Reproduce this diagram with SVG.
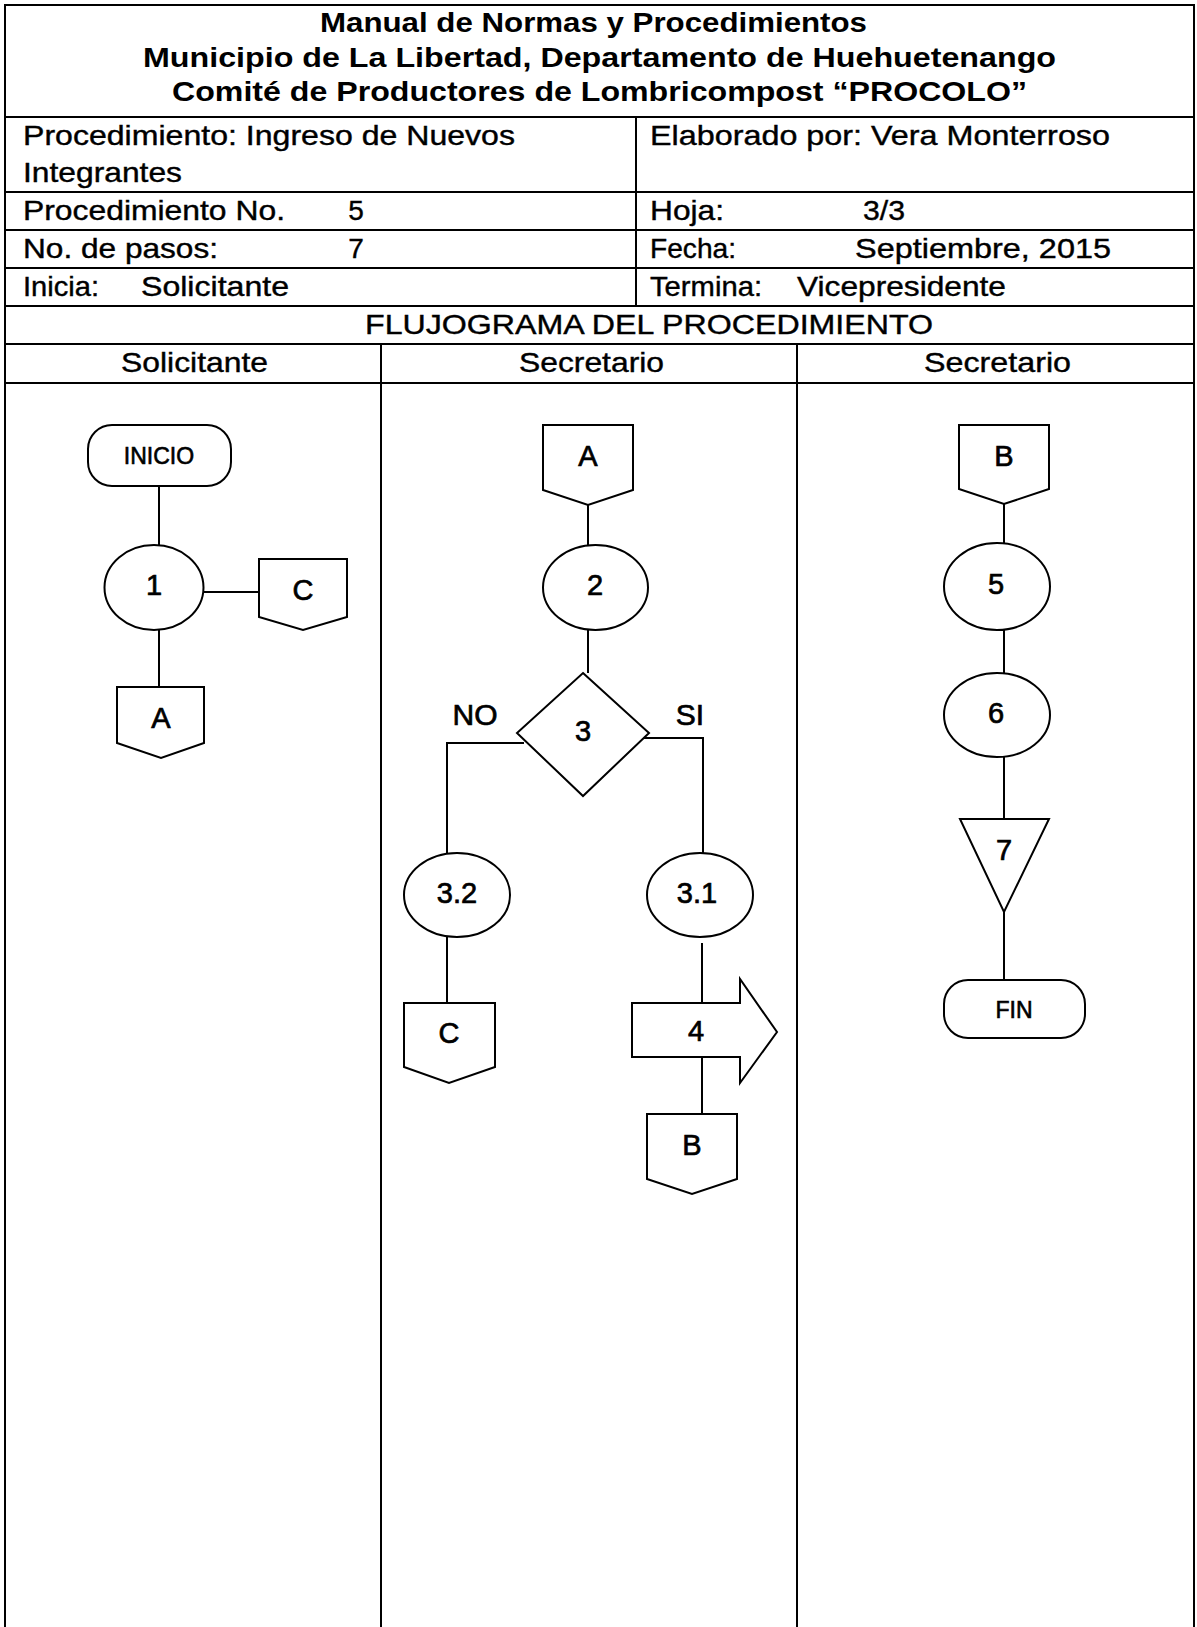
<svg xmlns="http://www.w3.org/2000/svg" width="1197" height="1627" viewBox="0 0 1197 1627">
<style>
.ln{stroke:#000;stroke-width:2;fill:none}
.sh{stroke:#000;stroke-width:2;fill:#fff}
.hd{font-family:"Liberation Sans",Arial,sans-serif;font-weight:bold;font-size:28px;fill:#000}
.tx{font-family:"Liberation Sans",Arial,sans-serif;font-size:28px;fill:#000;stroke:#000;stroke-width:0.4}
.nt{font-family:"Liberation Sans",Arial,sans-serif;font-size:29px;fill:#000;text-anchor:middle;stroke:#000;stroke-width:0.7}
.tt{font-family:"Liberation Sans",Arial,sans-serif;font-size:23px;fill:#000;text-anchor:middle;stroke:#000;stroke-width:0.6}
</style>
<rect width="1197" height="1627" fill="#fff"/>
<g id="table">
<path class="ln" d="M5,1627 V5 H1194 V1627"/>
<path class="ln" d="M5,117 H1194 M5,192 H1194 M5,230 H1194 M5,268 H1194 M5,306 H1194 M5,344 H1194 M5,383 H1194"/>
<path class="ln" d="M636,117 V306 M381,344 V1627 M797,344 V1627"/>
<text class="hd" x="320" y="32" textLength="547" lengthAdjust="spacingAndGlyphs">Manual de Normas y Procedimientos</text>
<text class="hd" x="143" y="67" textLength="913" lengthAdjust="spacingAndGlyphs">Municipio de La Libertad, Departamento de Huehuetenango</text>
<text class="hd" x="172" y="101" textLength="855" lengthAdjust="spacingAndGlyphs">Comité de Productores de Lombricompost “PROCOLO”</text>
<text class="tx" x="23" y="145" textLength="492" lengthAdjust="spacingAndGlyphs">Procedimiento: Ingreso de Nuevos</text>
<text class="tx" x="23" y="182" textLength="159" lengthAdjust="spacingAndGlyphs">Integrantes</text>
<text class="tx" x="23" y="220" textLength="262" lengthAdjust="spacingAndGlyphs">Procedimiento No.</text>
<text class="tx" x="356" y="220" text-anchor="middle">5</text>
<text class="tx" x="23" y="258" textLength="195" lengthAdjust="spacingAndGlyphs">No. de pasos:</text>
<text class="tx" x="356" y="258" text-anchor="middle">7</text>
<text class="tx" x="23" y="296" textLength="76" lengthAdjust="spacingAndGlyphs">Inicia:</text>
<text class="tx" x="141" y="296" textLength="148" lengthAdjust="spacingAndGlyphs">Solicitante</text>
<text class="tx" x="650" y="145" textLength="460" lengthAdjust="spacingAndGlyphs">Elaborado por: Vera Monterroso</text>
<text class="tx" x="650" y="220" textLength="74" lengthAdjust="spacingAndGlyphs">Hoja:</text>
<text class="tx" x="863" y="220" textLength="42" lengthAdjust="spacingAndGlyphs">3/3</text>
<text class="tx" x="650" y="258" textLength="86" lengthAdjust="spacingAndGlyphs">Fecha:</text>
<text class="tx" x="855" y="258" textLength="256" lengthAdjust="spacingAndGlyphs">Septiembre, 2015</text>
<text class="tx" x="650" y="296" textLength="112" lengthAdjust="spacingAndGlyphs">Termina:</text>
<text class="tx" x="797" y="296" textLength="209" lengthAdjust="spacingAndGlyphs">Vicepresidente</text>
<text class="tx" x="365" y="334" textLength="568" lengthAdjust="spacingAndGlyphs">FLUJOGRAMA DEL PROCEDIMIENTO</text>
<text class="tx" x="121" y="372" textLength="147" lengthAdjust="spacingAndGlyphs">Solicitante</text>
<text class="tx" x="519" y="372" textLength="145" lengthAdjust="spacingAndGlyphs">Secretario</text>
<text class="tx" x="924" y="372" textLength="147" lengthAdjust="spacingAndGlyphs">Secretario</text>
</g>
<g id="connectors">
<path class="ln" d="M159,486 V545"/>
<path class="ln" d="M203,592 H259"/>
<path class="ln" d="M159,630 V687"/>
<path class="ln" d="M588,505 V545"/>
<path class="ln" d="M588,630 V673"/>
<path class="ln" d="M524,743 H447 V853"/>
<path class="ln" d="M644,738 H703 V853"/>
<path class="ln" d="M447,937 V1003"/>
<path class="ln" d="M702,943 V1003"/>
<path class="ln" d="M702,1057 V1114"/>
<path class="ln" d="M1004,504 V543"/>
<path class="ln" d="M1004,630 V673"/>
<path class="ln" d="M1004,757 V819"/>
<path class="ln" d="M1004,912 V980"/>
<text class="nt" x="475" y="725" style="font-size:30px">NO</text>
<text class="nt" x="690" y="725" style="font-size:30px">SI</text>
</g>
<g id="inicio">
<rect class="sh" x="88" y="425" width="143" height="61" rx="24"/>
<text class="tt" x="159" y="464">INICIO</text>
</g>
<g id="step1">
<ellipse class="sh" cx="154" cy="587.5" rx="49.5" ry="42.5"/>
<text class="nt" x="154" y="595">1</text>
</g>
<g id="conC1">
<path class="sh" d="M259,559 H347 V617 L303,630 L259,617 Z"/>
<text class="nt" x="303" y="600">C</text>
</g>
<g id="conA1">
<path class="sh" d="M117,687 H204 V743 L161,758 L117,743 Z"/>
<text class="nt" x="161" y="728">A</text>
</g>
<g id="conA2">
<path class="sh" d="M543,425 H633 V490 L588,505 L543,490 Z"/>
<text class="nt" x="588" y="466">A</text>
</g>
<g id="step2">
<ellipse class="sh" cx="595.5" cy="587.5" rx="52.5" ry="42.5"/>
<text class="nt" x="595" y="595">2</text>
</g>
<g id="decision3">
<path class="sh" d="M583,673 L649,733 L583,796 L517,733 Z"/>
<text class="nt" x="583" y="741">3</text>
</g>
<g id="step32">
<ellipse class="sh" cx="457" cy="895" rx="53" ry="42"/>
<text class="nt" x="457" y="903">3.2</text>
</g>
<g id="conC2">
<path class="sh" d="M404,1003 H495 V1067 L449,1083 L404,1067 Z"/>
<text class="nt" x="449" y="1043">C</text>
</g>
<g id="step31">
<ellipse class="sh" cx="700" cy="895" rx="53" ry="42"/>
<text class="nt" x="697" y="903">3.1</text>
</g>
<g id="step4">
<path class="sh" d="M632,1003 H740 V979 L777,1032 L740,1083 V1057 H632 Z"/>
<path class="ln" d="M702,1057 V1062"/>
<text class="nt" x="696" y="1041">4</text>
</g>
<g id="conB1">
<path class="sh" d="M647,1114 H737 V1179 L692,1194 L647,1179 Z"/>
<text class="nt" x="692" y="1155">B</text>
</g>
<g id="conB2">
<path class="sh" d="M959,425 H1049 V489 L1004,504 L959,489 Z"/>
<text class="nt" x="1004" y="466">B</text>
</g>
<g id="step5">
<ellipse class="sh" cx="997" cy="586.5" rx="53" ry="43.5"/>
<text class="nt" x="996" y="594">5</text>
</g>
<g id="step6">
<ellipse class="sh" cx="997" cy="715" rx="53" ry="42"/>
<text class="nt" x="996" y="723">6</text>
</g>
<g id="step7">
<path class="sh" d="M960,819 H1049 L1004,912 Z"/>
<text class="nt" x="1004" y="860">7</text>
</g>
<g id="fin">
<rect class="sh" x="944" y="980" width="141" height="58" rx="24"/>
<text class="tt" x="1014" y="1018">FIN</text>
</g>
</svg>
